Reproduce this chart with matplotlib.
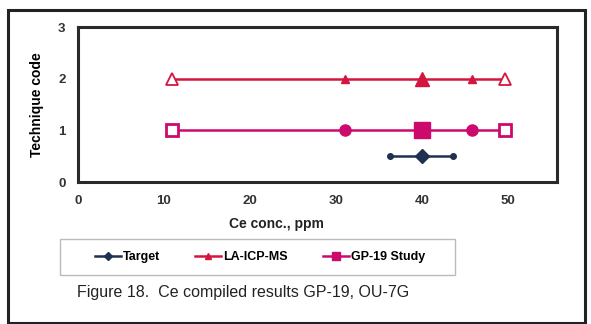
import matplotlib.pyplot as plt
from matplotlib.patches import Rectangle

plt.rcParams['font.family'] = ['Liberation Sans', 'DejaVu Sans']

# Data
target_x = [36.3, 40.0, 43.6]
target_y = [0.5, 0.5, 0.5]
la_x = [10.9, 31.0, 40.0, 45.8, 49.7]
la_y = [2, 2, 2, 2, 2]
gp_x = [10.9, 31.0, 40.0, 45.8, 49.7]
gp_y = [1, 1, 1, 1, 1]
x_ticks = [0, 10, 20, 30, 40, 50]
y_ticks = [0, 1, 2, 3]

c_target = '#1f3150'
c_la = '#d4163f'
c_gp = '#cc0a6e'

fig = plt.figure(figsize=(5.91, 3.24), dpi=100)
W, H = 591, 324

# outer frame
fig.patches.append(Rectangle((8 / W, 1 - 323 / H), (585 - 8) / W, (323 - 10) / H,
                             transform=fig.transFigure, fill=False, lw=2.2,
                             edgecolor='#222222'))

ax = fig.add_axes([78 / W, 1 - 182 / H, (557 - 78) / W, (182 - 27) / H])
ax.set_xlim(0, 55.7)
ax.set_ylim(0, 3)
for s in ax.spines.values():
    s.set_linewidth(2.2)
    s.set_color('#2a2a2a')
ax.set_xticks(x_ticks)
ax.set_yticks(y_ticks)
ax.tick_params(length=0, pad=9, labelsize=9.5, labelcolor='#333333')
for lab in ax.get_xticklabels() + ax.get_yticklabels():
    lab.set_fontweight('bold')

# Target
ax.plot(target_x, target_y, color=c_target, lw=1.8, marker='o', ms=4)
ax.plot(target_x[1], target_y[1], marker='D', ms=7, color=c_target)

# LA-ICP-MS
ax.plot(la_x, la_y, color=c_la, lw=1.8)
for i, (x, y) in enumerate(zip(la_x, la_y)):
    if i in (0, len(la_x) - 1):
        ax.plot(x, y, marker='^', ms=8, mfc='white', mec=c_la, mew=1.3)
    elif i == 2:
        ax.plot(x, y, marker='^', ms=10, color=c_la)
    else:
        ax.plot(x, y, marker='^', ms=5.5, color=c_la)

# GP-19 Study
ax.plot(gp_x, gp_y, color=c_gp, lw=1.8)
for i, (x, y) in enumerate(zip(gp_x, gp_y)):
    if i in (0, len(gp_x) - 1):
        ax.plot(x, y, marker='s', ms=9, mfc='white', mec=c_gp, mew=2)
    elif i == 2:
        ax.plot(x, y, marker='s', ms=11, color=c_gp)
    else:
        ax.plot(x, y, marker='o', ms=8, color=c_gp)

ax.set_ylabel('Technique code', fontsize=10, fontweight='bold', labelpad=10)
fig.text(276 / W, 1 - 224 / H, 'Ce conc., ppm', ha='center', va='center',
         fontsize=10, fontweight='bold', color='#222222')

# legend
fig.patches.append(Rectangle((60 / W, 1 - 275 / H), (455 - 60) / W, (275 - 239) / H,
                             transform=fig.transFigure, fill=False, lw=1,
                             edgecolor='#bbbbbb'))
h1, = ax.plot([], [], color=c_target, lw=1.8, marker='D', ms=4)
h2, = ax.plot([], [], color=c_la, lw=1.8, marker='^', ms=5)
h3, = ax.plot([], [], color=c_gp, lw=1.8, marker='s', ms=6)
leg = fig.legend([h1, h2, h3], ['Target', 'LA-ICP-MS', 'GP-19 Study'],
                 loc='center', bbox_to_anchor=(260 / W, 1 - 257 / H), ncol=3,
                 frameon=False, fontsize=9, handlelength=2.1, handletextpad=0.15,
                 columnspacing=2.8)
for t in leg.get_texts():
    t.set_fontweight('bold')

fig.text(77 / W, 1 - 292 / H, 'Figure 18.  Ce compiled results GP-19, OU-7G',
         ha='left', va='center', fontsize=11.5, color='#222222')

fig.savefig('out.png', dpi=100)
